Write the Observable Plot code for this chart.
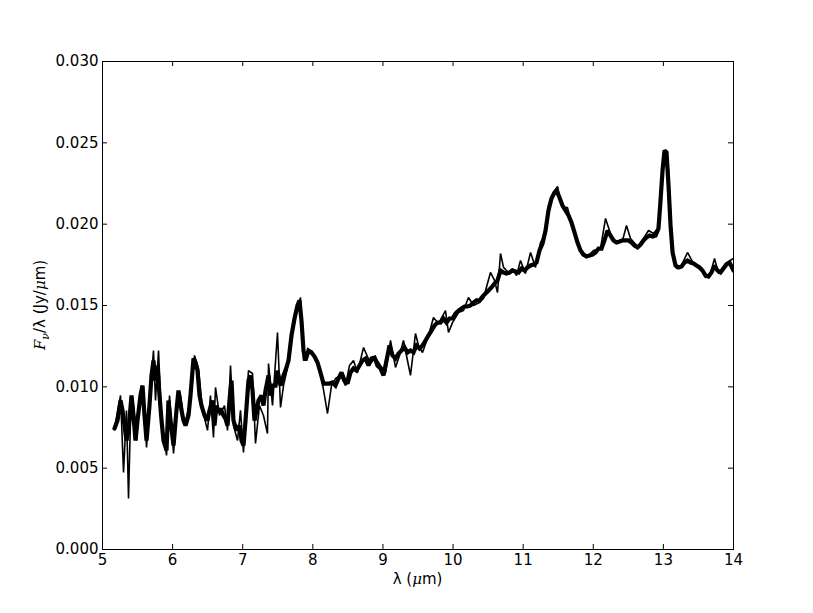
<!DOCTYPE html>
<html><head><meta charset="utf-8">
<script src="https://cdn.jsdelivr.net/npm/d3@7"></script>
<script src="https://cdn.jsdelivr.net/npm/@observablehq/plot@0.6"></script>
<style>body{margin:0;background:#fff} #chart svg{display:block}</style>
</head><body><div id="chart"></div>
<script>
// Main (thick) spectrum: wavelength in µm, flux in 1e-3 Jy/µm
const lambdaMain = [5.171,5.214,5.257,5.285,5.314,5.342,5.371,5.414,5.442,5.471,5.499,5.542,5.571,5.599,5.628,5.670,5.699,5.727,5.756,5.784,5.813,5.842,5.870,5.913,5.941,5.970,6.013,6.055,6.084,6.127,6.155,6.184,6.227,6.255,6.298,6.326,6.355,6.384,6.412,6.455,6.498,6.526,6.569,6.597,6.626,6.655,6.683,6.726,6.754,6.783,6.811,6.840,6.868,6.911,6.954,6.983,7.011,7.040,7.082,7.111,7.140,7.168,7.197,7.225,7.268,7.296,7.325,7.368,7.396,7.425,7.468,7.496,7.539,7.582,7.610,7.653,7.696,7.739,7.781,7.810,7.838,7.867,7.895,7.938,7.981,8.024,8.067,8.109,8.152,8.195,8.238,8.281,8.323,8.366,8.409,8.452,8.495,8.537,8.580,8.623,8.666,8.708,8.751,8.794,8.837,8.880,8.922,8.965,9.008,9.051,9.094,9.136,9.179,9.222,9.265,9.308,9.350,9.393,9.436,9.479,9.522,9.564,9.607,9.650,9.693,9.735,9.778,9.821,9.864,9.907,9.949,9.992,10.035,10.078,10.121,10.163,10.206,10.249,10.292,10.334,10.377,10.420,10.463,10.506,10.548,10.591,10.634,10.677,10.720,10.762,10.805,10.848,10.891,10.934,10.976,11.019,11.062,11.105,11.147,11.190,11.233,11.276,11.319,11.361,11.404,11.447,11.476,11.518,11.561,11.604,11.647,11.689,11.732,11.775,11.818,11.861,11.903,11.946,11.989,12.032,12.075,12.117,12.160,12.203,12.246,12.289,12.331,12.374,12.417,12.460,12.502,12.545,12.588,12.631,12.674,12.716,12.759,12.802,12.845,12.888,12.930,12.959,12.988,13.016,13.045,13.073,13.102,13.131,13.173,13.216,13.259,13.301,13.344,13.387,13.430,13.472,13.515,13.558,13.601,13.643,13.686,13.729,13.772,13.815,13.857,13.900,13.943,14.000];
const fluxMain = [7.44,7.93,9.16,8.55,7.62,6.70,7.32,9.47,8.24,6.70,7.93,9.47,10.08,8.24,6.70,8.85,10.70,11.62,10.39,11.31,9.47,7.93,6.70,6.09,9.16,7.93,6.39,8.55,9.77,8.55,7.93,7.62,8.24,9.47,11.74,11.50,11.00,9.47,8.85,8.24,7.93,8.55,9.16,7.62,8.85,8.42,8.67,8.24,8.05,7.62,9.16,10.39,7.93,7.32,7.62,6.70,6.39,7.93,10.39,10.70,9.77,7.93,8.55,9.16,9.47,8.85,9.77,10.70,9.47,10.08,10.08,11.00,10.08,10.70,11.00,11.62,13.16,14.20,15.00,15.31,14.08,12.23,11.62,12.23,12.11,11.86,11.50,10.88,10.20,10.20,10.20,10.27,10.08,10.51,10.88,10.39,10.20,10.88,11.13,11.00,11.31,11.62,11.74,11.31,11.74,11.80,11.31,11.13,10.70,11.62,12.54,11.93,11.74,12.05,12.23,12.42,12.11,12.23,12.11,12.54,12.36,12.54,12.85,13.16,13.46,13.77,13.95,13.95,14.20,13.95,14.20,14.20,14.51,14.69,14.82,14.94,14.94,15.00,15.18,15.31,15.31,15.55,15.74,15.92,16.11,16.35,16.54,17.15,17.03,16.97,17.03,17.15,17.09,17.03,17.27,17.15,17.34,17.46,17.52,17.64,18.38,18.81,19.61,20.84,21.58,21.95,22.07,21.64,21.15,20.84,20.53,20.10,19.49,18.87,18.38,18.13,18.01,18.07,18.13,18.26,18.50,18.50,19.00,19.61,19.30,19.00,18.87,18.93,19.00,19.00,19.00,18.87,18.69,18.57,18.75,19.00,19.18,19.30,19.24,19.30,19.73,21.45,23.30,24.53,24.41,22.38,19.92,18.26,17.46,17.34,17.40,17.64,17.77,17.64,17.58,17.46,17.34,17.15,16.84,16.78,17.03,17.46,17.15,17.03,17.27,17.52,17.64,17.15];

// Second (thin) spectrum
const lambdaThin = [5.171,5.257,5.300,5.342,5.371,5.399,5.442,5.485,5.542,5.585,5.628,5.685,5.727,5.756,5.799,5.842,5.913,5.956,6.013,6.070,6.112,6.170,6.255,6.312,6.369,6.426,6.498,6.540,6.583,6.612,6.669,6.740,6.783,6.826,6.868,6.926,6.968,7.011,7.082,7.140,7.182,7.239,7.296,7.353,7.368,7.425,7.496,7.539,7.582,7.639,7.710,7.767,7.824,7.867,7.924,7.981,8.052,8.109,8.166,8.209,8.266,8.323,8.395,8.466,8.523,8.580,8.637,8.723,8.822,8.894,8.965,9.037,9.108,9.179,9.236,9.293,9.350,9.393,9.464,9.507,9.564,9.650,9.721,9.792,9.892,9.935,9.992,10.078,10.149,10.220,10.292,10.377,10.434,10.491,10.534,10.591,10.634,10.677,10.720,10.791,10.848,10.905,10.962,11.033,11.105,11.176,11.247,11.304,11.361,11.433,11.490,11.533,11.575,11.633,11.675,11.775,11.846,11.918,12.003,12.103,12.175,12.217,12.275,12.346,12.417,12.474,12.531,12.645,12.716,12.788,12.859,12.930,12.988,13.030,13.073,13.131,13.188,13.245,13.344,13.430,13.530,13.601,13.672,13.729,13.786,13.886,14.000];
const fluxThin = [7.44,9.47,4.73,8.55,3.14,7.93,8.85,6.70,9.77,9.16,6.27,9.77,12.23,9.16,12.23,7.93,5.78,9.47,5.90,9.16,9.47,7.62,9.16,11.93,11.13,8.55,7.32,9.47,6.89,9.96,8.24,8.85,7.32,11.31,7.62,6.70,8.55,5.96,11.00,10.82,6.52,8.85,8.24,7.13,11.43,8.85,13.34,8.73,10.08,11.19,13.46,14.69,15.49,11.62,11.93,12.23,11.74,10.88,9.47,8.36,10.08,10.51,10.70,10.08,11.31,11.62,10.88,12.42,11.43,11.80,11.31,10.88,12.85,11.19,11.93,12.85,11.62,10.70,13.28,12.54,12.11,13.16,14.26,13.89,14.69,13.34,13.95,14.57,14.69,15.49,15.00,15.18,15.43,16.35,17.03,16.54,15.80,18.20,17.34,17.03,17.27,16.84,17.77,16.97,18.26,17.34,18.87,19.30,21.15,21.95,22.32,21.45,21.02,21.02,20.23,18.81,18.07,18.01,18.38,18.50,20.35,19.79,19.00,18.81,19.00,19.92,19.12,18.57,19.12,19.61,19.43,19.79,23.73,24.53,23.30,18.20,17.27,17.34,18.26,17.58,17.34,16.72,16.97,17.89,16.97,17.58,17.89];

const xTicks = [5,6,7,8,9,10,11,12,13,14];
const yTicks = [0,0.005,0.010,0.015,0.020,0.025,0.030];

const main = lambdaMain.map((l,i)=>({lambda:l, flux:fluxMain[i]*1e-3}));
const thin = lambdaThin.map((l,i)=>({lambda:l, flux:fluxThin[i]*1e-3}));

const W = 813, H = 613, mL = 102, mR = 80, mT = 61, mB = 64;
const fw = W - mL - mR, fh = H - mT - mB, tl = 5;

const chart = Plot.plot({
  width: W, height: H,
  marginLeft: mL, marginRight: mR, marginTop: mT, marginBottom: mB,
  x: {domain: [5, 14]},
  y: {domain: [0, 0.03]},
  style: {fontFamily: "DejaVu Sans", fontSize: "15px", color: "black", background: "white", overflow: "visible"},
  marks: [
    Plot.line(thin, {x: "lambda", y: "flux", stroke: "black", strokeWidth: 1.6, strokeLinejoin: "miter", clip: true}),
    Plot.line(main, {x: "lambda", y: "flux", stroke: "black", strokeWidth: 4.2, strokeLinejoin: "miter", strokeMiterlimit: 2, clip: true}),
    Plot.frame({stroke: "black", strokeWidth: 1}),
    Plot.tickX(xTicks, {x: d => d, insetTop: fh - tl, stroke: "black"}),
    Plot.tickX(xTicks, {x: d => d, insetBottom: fh - tl, stroke: "black"}),
    Plot.tickY(yTicks, {y: d => d, insetRight: fw - tl, stroke: "black"}),
    Plot.tickY(yTicks, {y: d => d, insetLeft: fw - tl, stroke: "black"}),
    Plot.axisX(xTicks, {tickSize: 0, tickPadding: 5, label: null, tickFormat: d => String(d), fontSize: 15}),
    Plot.axisY(yTicks, {tickSize: 0, tickPadding: 4, label: null, tickFormat: d3.format(".3f"), fontSize: 15})
  ]
});
document.getElementById("chart").appendChild(chart);

const svg = d3.select(chart);
// x label
const xl = svg.append("text")
  .attr("x", mL + fw / 2).attr("y", 584)
  .attr("text-anchor", "middle")
  .attr("font-family", "DejaVu Sans").attr("font-size", 15).attr("fill", "black");
xl.append("tspan").text("λ (");
xl.append("tspan").attr("font-family", "DejaVu Serif").attr("font-style", "italic").text("μ");
xl.append("tspan").text("m)");
// y label
const yl = svg.append("text")
  .attr("transform", `translate(45,${mT + fh / 2}) rotate(-90)`)
  .attr("text-anchor", "middle")
  .attr("font-family", "DejaVu Sans").attr("font-size", 15).attr("fill", "black");
yl.append("tspan").attr("font-family", "DejaVu Serif").attr("font-style", "italic").text("F");
yl.append("tspan").attr("font-family", "DejaVu Serif").attr("font-style", "italic").attr("font-size", 11).attr("dy", 4).text("ν");
yl.append("tspan").attr("dy", -4).text("/λ (Jy/");
yl.append("tspan").attr("font-family", "DejaVu Serif").attr("font-style", "italic").text("μ");
yl.append("tspan").text("m)");
</script>
</body></html>
